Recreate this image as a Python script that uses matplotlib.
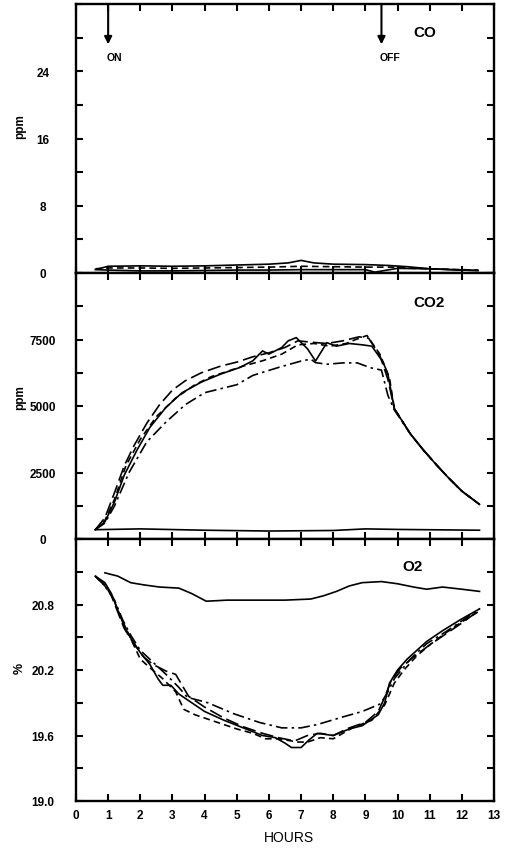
import matplotlib
matplotlib.use("Agg")
import matplotlib.pyplot as plt
from matplotlib.ticker import FixedLocator, FuncFormatter

# ---------------- data ----------------
HOUR_TICKS = list(range(0, 14))

co_ticks = [0, 4, 8, 12, 16, 20, 24, 28, 32]
co_labels = {0: "0", 8: "8", 16: "16", 24: "24"}
co2_ticks = [0, 1250, 2500, 3750, 5000, 6250, 7500, 8750, 10000]
co2_labels = {0: "0", 2500: "2500", 5000: "5000", 7500: "7500"}
o2_ticks = [19.0, 19.3, 19.6, 19.9, 20.2, 20.5, 20.8, 21.1, 21.4]
o2_labels = {19.0: "19.0", 19.6: "19.6", 20.2: "20.2", 20.8: "20.8"}

ON_HOUR = 1.0
OFF_HOUR = 9.5

# CO (ppm)
co_a_h = [0.7, 1.0, 2.0, 3.0, 4.0, 5.0, 6.0, 6.6, 7.0, 7.4, 8.0, 9.0, 9.7, 10.3, 11.0, 12.0, 12.5]
co_a_v = [0.5, 0.8, 0.85, 0.8, 0.85, 0.95, 1.05, 1.2, 1.5, 1.2, 1.05, 1.0, 0.9, 0.75, 0.5, 0.35, 0.3]
co_b_h = [0.6, 1.0, 2.0, 3.0, 4.0, 5.0, 6.0, 7.0, 8.0, 9.0, 9.3, 9.6, 10.0, 11.0, 12.0, 12.5]
co_b_v = [0.4, 0.35, 0.25, 0.25, 0.3, 0.35, 0.35, 0.4, 0.4, 0.4, 0.1, 0.3, 0.55, 0.5, 0.35, 0.3]
co_c_h = [0.6, 1.0, 2.0, 3.0, 4.0, 5.0, 6.0, 7.0, 8.0, 9.0, 9.8, 10.5, 11.5, 12.5]
co_c_v = [0.5, 0.6, 0.6, 0.55, 0.6, 0.65, 0.7, 0.8, 0.75, 0.7, 0.7, 0.55, 0.45, 0.35]

# CO2 (ppm)
co2_ctrl_h = [0.6, 2.0, 4.0, 6.0, 8.0, 9.0, 10.0, 12.55]
co2_ctrl_v = [350, 380, 330, 300, 320, 380, 360, 330]
co2_solid_h = [0.6, 0.9, 1.2, 1.5, 1.9, 2.3, 2.8, 3.3, 3.9, 4.5, 5.1, 5.5, 5.8, 6.0, 6.4, 6.6, 6.85,
               7.2, 7.45, 7.8, 8.1, 8.5, 8.9, 9.2, 9.55, 9.7, 9.9, 10.4, 10.8, 11.2, 11.6, 12.0, 12.55]
co2_solid_v = [350, 650, 1400, 2400, 3350, 4200, 4950, 5500, 5900, 6200, 6450, 6700, 7070, 6950, 7200,
               7450, 7570, 7150, 6690, 7380, 7250, 7350, 7300, 7250, 6650, 6200, 4900, 3950, 3350,
               2800, 2280, 1800, 1300]
co2_long_h = [0.6, 0.9, 1.2, 1.5, 1.8, 2.2, 2.6, 3.0, 3.4, 3.9, 4.5, 5.0, 5.5, 6.0, 6.5, 6.9, 7.3,
              7.8, 8.3, 8.8, 9.1, 9.45, 9.7, 9.9, 10.4, 10.8, 11.2, 11.6, 12.0, 12.55]
co2_long_v = [350, 800, 1750, 2750, 3500, 4350, 5050, 5600, 5950, 6250, 6500, 6650, 6850, 7000, 7200,
              7450, 7400, 7350, 7450, 7600, 7550, 6900, 6000, 4900, 3950, 3350, 2800, 2280, 1800, 1300]
co2_dash_h = [0.6, 0.9, 1.2, 1.55, 2.0, 2.5, 3.1, 3.7, 4.2, 4.7, 5.2, 5.8, 6.4, 6.9, 7.4, 7.9, 8.4,
              8.7, 9.05, 9.45, 9.75, 9.9, 10.4, 10.8, 11.2, 11.6, 12.0, 12.55]
co2_dash_v = [350, 700, 1500, 2750, 3750, 4600, 5300, 5800, 6100, 6300, 6500, 6700, 6950, 7300, 7350,
              7250, 7350, 7500, 7650, 6950, 6050, 4900, 3950, 3350, 2800, 2280, 1800, 1300]
co2_dd_h = [0.6, 0.9, 1.2, 1.65, 2.2, 2.8, 3.4, 4.0, 4.5, 5.0, 5.5, 6.3, 7.0, 7.3, 7.45, 7.8, 8.3,
            8.75, 9.15, 9.5, 9.7, 9.9, 10.4, 10.8, 11.2, 11.6, 12.0, 12.55]
co2_dd_v = [350, 600, 1250, 2500, 3650, 4400, 5050, 5500, 5650, 5800, 6150, 6450, 6690, 6760, 6630,
            6570, 6620, 6620, 6440, 6350, 5400, 4850, 3950, 3350, 2800, 2280, 1800, 1300]

# O2 (%)
o2_ctrl_h = [0.9, 1.3, 1.7, 2.1, 2.6, 3.2, 3.6, 4.05, 4.7, 5.5, 6.5, 7.3, 7.7, 8.1, 8.5, 8.9, 9.5,
             10.0, 10.5, 10.9, 11.4, 12.0, 12.55]
o2_ctrl_v = [21.09, 21.06, 21.0, 20.98, 20.96, 20.95, 20.9, 20.83, 20.84, 20.84, 20.84, 20.85, 20.88,
             20.92, 20.97, 21.0, 21.01, 20.99, 20.96, 20.94, 20.96, 20.94, 20.92]
o2_solid_h = [0.6, 0.9, 1.1, 1.3, 1.5, 1.75, 2.0, 2.3, 2.55, 2.7, 2.95, 3.2, 3.5, 4.0, 4.6, 5.2, 5.8,
              6.2, 6.5, 6.7, 7.0, 7.25, 7.5, 8.0, 8.5, 8.9, 9.4, 9.6, 9.75, 10.0, 10.3, 10.9, 11.4,
              11.95, 12.55]
o2_solid_v = [21.06, 21.0, 20.9, 20.75, 20.6, 20.47, 20.36, 20.25, 20.12, 20.06, 20.06, 19.98, 19.92,
              19.82, 19.74, 19.67, 19.6, 19.58, 19.53, 19.49, 19.49, 19.56, 19.62, 19.6, 19.66, 19.69,
              19.79, 19.9, 20.08, 20.2, 20.3, 20.46, 20.56, 20.66, 20.76]
o2_long_h = [0.6, 0.9, 1.1, 1.3, 1.5, 1.8, 2.1, 2.4, 2.8, 3.1, 3.3, 3.5, 4.0, 4.6, 5.2, 5.8, 6.3, 6.8,
             7.2, 7.6, 8.0, 8.5, 9.0, 9.4, 9.6, 9.8, 10.1, 10.5, 11.0, 11.5, 12.0, 12.55]
o2_long_v = [21.06, 20.98, 20.88, 20.73, 20.58, 20.44, 20.32, 20.25, 20.19, 20.16, 20.06, 19.96, 19.86,
             19.76, 19.68, 19.62, 19.58, 19.55, 19.6, 19.62, 19.6, 19.67, 19.72, 19.82, 19.95, 20.1,
             20.22, 20.32, 20.43, 20.53, 20.63, 20.75]
o2_dash_h = [0.6, 0.9, 1.15, 1.4, 1.65, 2.0, 2.3, 2.7, 3.1, 3.35, 3.7, 4.1, 4.6, 5.0, 5.5, 5.9, 6.3,
             6.9, 7.2, 7.6, 8.0, 8.6, 9.2, 9.6, 9.9, 10.2, 10.6, 11.0, 11.5, 12.0, 12.55]
o2_dash_v = [21.06, 20.97, 20.86, 20.68, 20.52, 20.3, 20.22, 20.12, 20.0, 19.84, 19.79, 19.75, 19.7,
             19.66, 19.62, 19.57, 19.57, 19.54, 19.54, 19.58, 19.57, 19.67, 19.74, 19.88, 20.08, 20.2,
             20.33, 20.43, 20.54, 20.64, 20.74]
o2_dd_h = [0.6, 0.9, 1.2, 1.45, 1.7, 2.0, 2.4, 2.8, 3.2, 3.46, 4.1, 4.9, 5.7, 6.4, 7.0, 7.5, 8.3, 8.9,
           9.47, 9.7, 9.9, 10.4, 10.9, 11.5, 12.0, 12.55]
o2_dd_v = [21.06, 20.97, 20.84, 20.66, 20.52, 20.38, 20.27, 20.16, 20.04, 19.95, 19.9, 19.8, 19.72,
           19.67, 19.67, 19.7, 19.77, 19.82, 19.89, 20.0, 20.12, 20.3, 20.44, 20.55, 20.65, 20.76]

# ---------------- styling ----------------
plt.rcParams['font.family'] = ['Liberation Sans', 'DejaVu Sans']
LW = 1.2
SOLID = '-'
DASHED = (0, (4, 2.5))
LONG = (0, (8, 3))
DASHDOT = (0, (7, 2.5, 1.5, 2.5))

W, H = 510, 853
fig = plt.figure(figsize=(W / 100, H / 100), dpi=100)

def frac_box(top_px, bot_px, left_px=76, right_px=494):
    return [left_px / W, 1 - bot_px / H, (right_px - left_px) / W, (bot_px - top_px) / H]

ax1 = fig.add_axes(frac_box(5, 274))
ax2 = fig.add_axes(frac_box(274, 540))
ax3 = fig.add_axes(frac_box(540, 802))

def style(ax, yticks, ylabels, ylim, show_x):
    ax.set_xlim(0, 13)
    ax.set_ylim(*ylim)
    ax.xaxis.set_major_locator(FixedLocator(HOUR_TICKS))
    ax.yaxis.set_major_locator(FixedLocator(yticks))
    ax.yaxis.set_major_formatter(FuncFormatter(
        lambda v, p: next((s for k, s in ylabels.items() if abs(k - v) < 1e-6), "")))
    ax.tick_params(axis='both', direction='in', length=5, width=1.5,
                   top=True, right=True, bottom=True, left=True)
    ax.tick_params(axis='y', pad=24, labelsize=8.5)
    ax.tick_params(axis='x', pad=6, labelsize=8.5, labelbottom=show_x)
    for lbl in ax.get_yticklabels():
        lbl.set_horizontalalignment('center')
        lbl.set_fontweight('bold')
    for lbl in ax.get_xticklabels():
        lbl.set_fontweight('bold')
    for s in ax.spines.values():
        s.set_linewidth(1.7)

# CO panel
for h, v, ls in [(co_a_h, co_a_v, SOLID), (co_b_h, co_b_v, SOLID), (co_c_h, co_c_v, DASHED)]:
    ax1.plot(h, v, color='black', lw=LW, linestyle=ls)
style(ax1, co_ticks, co_labels, (0, 32), False)

# CO2 panel
ax2.plot(co2_ctrl_h, co2_ctrl_v, color='black', lw=LW, linestyle=SOLID)
ax2.plot(co2_solid_h, co2_solid_v, color='black', lw=LW, linestyle=SOLID)
ax2.plot(co2_long_h, co2_long_v, color='black', lw=LW, linestyle=LONG)
ax2.plot(co2_dash_h, co2_dash_v, color='black', lw=LW, linestyle=DASHED)
ax2.plot(co2_dd_h, co2_dd_v, color='black', lw=LW, linestyle=DASHDOT)
style(ax2, co2_ticks, co2_labels, (0, 10000), False)

# O2 panel
ax3.plot(o2_ctrl_h, o2_ctrl_v, color='black', lw=LW, linestyle=SOLID)
ax3.plot(o2_solid_h, o2_solid_v, color='black', lw=LW, linestyle=SOLID)
ax3.plot(o2_long_h, o2_long_v, color='black', lw=LW, linestyle=LONG)
ax3.plot(o2_dash_h, o2_dash_v, color='black', lw=LW, linestyle=DASHED)
ax3.plot(o2_dd_h, o2_dd_v, color='black', lw=LW, linestyle=DASHDOT)
style(ax3, o2_ticks, o2_labels, (19.0, 21.4), True)

# arrows ON / OFF
for hr, txt in [(ON_HOUR, "ON"), (OFF_HOUR, "OFF")]:
    ax1.annotate("", xy=(hr, 27.2), xytext=(hr, 32),
                 arrowprops=dict(arrowstyle='-|>', color='black', lw=1.5,
                                 mutation_scale=11, shrinkA=0, shrinkB=0))
    ax1.text(hr - 0.06, 25.7, txt, ha='left', va='center', fontsize=7.5, fontweight='bold')

# panel names
ax1.text(10.48, 28.7, "CO", ha='left', va='center', fontsize=11, fontweight='bold',
         family=['Liberation Sans Narrow', 'Liberation Sans'])
ax2.text(10.48, 8900, "CO2", ha='left', va='center', fontsize=11, fontweight='bold',
         family=['Liberation Sans Narrow', 'Liberation Sans'])
ax3.text(10.16, 21.15, "O2", ha='left', va='center', fontsize=11, fontweight='bold',
         family=['Liberation Sans Narrow', 'Liberation Sans'])

# axis unit labels
fig.text(20 / W, 1 - 127 / H, "ppm", rotation=90, ha='center', va='center', fontsize=8.5,
         fontweight='bold')
fig.text(20 / W, 1 - 398 / H, "ppm", rotation=90, ha='center', va='center', fontsize=8.5,
         fontweight='bold')
fig.text(20 / W, 1 - 668 / H, "%", rotation=90, ha='center', va='center', fontsize=9,
         fontweight='bold')
fig.text(289 / W, 1 - 838 / H, "HOURS", ha='center', va='center', fontsize=10)

fig.savefig("out.png", dpi=100)
